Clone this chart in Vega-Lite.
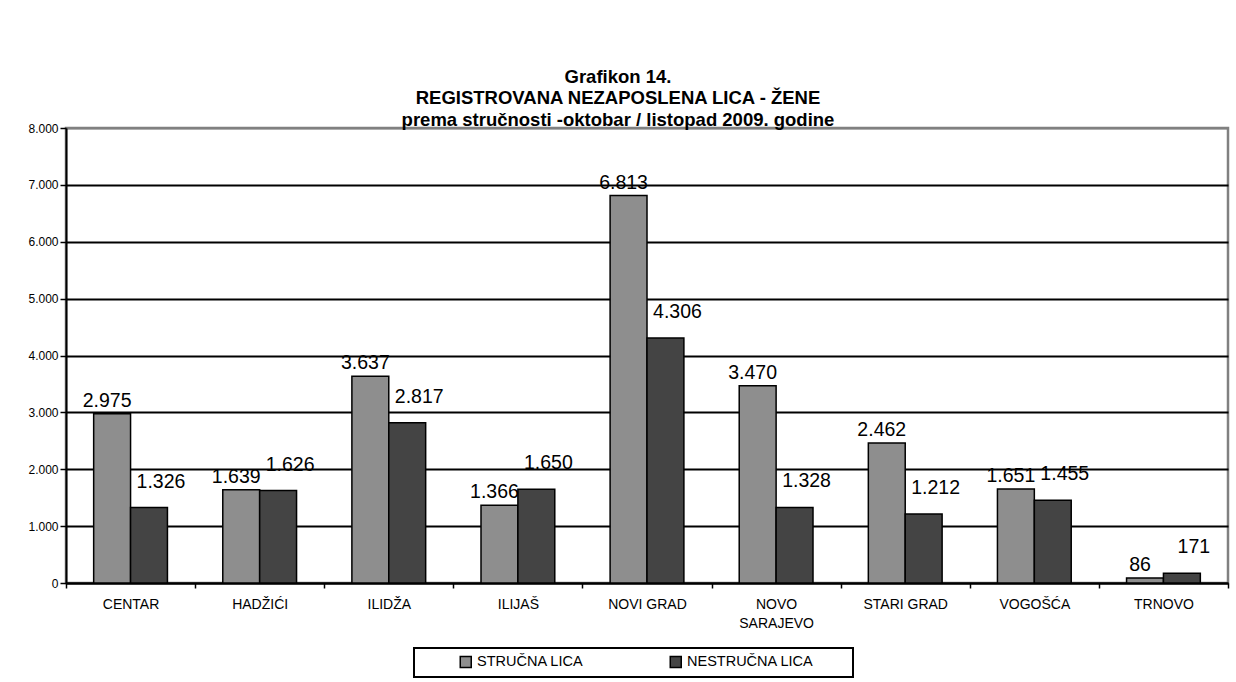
{
  "$schema": "https://vega.github.io/schema/vega-lite/v6.json",
  "width": 1162,
  "height": 455,
  "autosize": {"type": "none"},
  "padding": {"left": 66, "top": 128, "right": 8, "bottom": 99},
  "background": "white",
  "title": {
    "text": ["Grafikon 14.", "REGISTROVANA NEZAPOSLENA LICA - ŽENE", "prema stručnosti -oktobar / listopad 2009. godine"],
    "fontSize": 18.5,
    "fontWeight": "bold",
    "font": "Liberation Sans",
    "lineHeight": 21.5,
    "anchor": "middle",
    "dx": -29,
    "offset": -7,
    "color": "black"
  },
  "data": {
    "values": [
      {"opcina": "CENTAR", "vrsta": "STRUČNA LICA", "broj": 2975},
      {"opcina": "CENTAR", "vrsta": "NESTRUČNA LICA", "broj": 1326},
      {"opcina": "HADŽIĆI", "vrsta": "STRUČNA LICA", "broj": 1639},
      {"opcina": "HADŽIĆI", "vrsta": "NESTRUČNA LICA", "broj": 1626},
      {"opcina": "ILIDŽA", "vrsta": "STRUČNA LICA", "broj": 3637},
      {"opcina": "ILIDŽA", "vrsta": "NESTRUČNA LICA", "broj": 2817},
      {"opcina": "ILIJAŠ", "vrsta": "STRUČNA LICA", "broj": 1366},
      {"opcina": "ILIJAŠ", "vrsta": "NESTRUČNA LICA", "broj": 1650},
      {"opcina": "NOVI GRAD", "vrsta": "STRUČNA LICA", "broj": 6813},
      {"opcina": "NOVI GRAD", "vrsta": "NESTRUČNA LICA", "broj": 4306},
      {"opcina": "NOVO SARAJEVO", "vrsta": "STRUČNA LICA", "broj": 3470},
      {"opcina": "NOVO SARAJEVO", "vrsta": "NESTRUČNA LICA", "broj": 1328},
      {"opcina": "STARI GRAD", "vrsta": "STRUČNA LICA", "broj": 2462},
      {"opcina": "STARI GRAD", "vrsta": "NESTRUČNA LICA", "broj": 1212},
      {"opcina": "VOGOŠĆA", "vrsta": "STRUČNA LICA", "broj": 1651},
      {"opcina": "VOGOŠĆA", "vrsta": "NESTRUČNA LICA", "broj": 1455},
      {"opcina": "TRNOVO", "vrsta": "STRUČNA LICA", "broj": 86},
      {"opcina": "TRNOVO", "vrsta": "NESTRUČNA LICA", "broj": 171}
    ]
  },
  "encoding": {
    "x": {
      "field": "opcina",
      "type": "nominal",
      "sort": null,
      "scale": {"paddingInner": 0, "paddingOuter": 0},
      "axis": {
        "title": null,
        "labelAngle": 0,
        "tickBand": "extent",
        "tickSize": 5,
        "tickColor": "black",
        "tickWidth": 1.5,
        "domainColor": "black",
        "domainWidth": 2,
        "labelFontSize": 14,
        "labelPadding": 9,
        "labelColor": "black",
        "labelLineHeight": 19,
        "labelBaseline": "top",
        "labelExpr": "datum.label == 'NOVO SARAJEVO' ? ['NOVO', 'SARAJEVO'] : datum.label"
      }
    },
    "xOffset": {
      "field": "vrsta",
      "type": "nominal",
      "sort": ["STRUČNA LICA", "NESTRUČNA LICA"],
      "scale": {"paddingInner": 0, "paddingOuter": 0.75}
    },
    "y": {
      "field": "broj",
      "type": "quantitative",
      "scale": {"domain": [0, 8000], "nice": false},
      "axis": {
        "title": null,
        "values": [0, 1000, 2000, 3000, 4000, 5000, 6000, 7000, 8000],
        "format": ",d",
        "grid": true,
        "gridColor": {"condition": {"test": "datum.value === 8000", "value": "#808080"}, "value": "black"},
        "gridWidth": 2,
        "domainColor": "black",
        "domainWidth": 2,
        "tickColor": "black",
        "tickSize": 6,
        "tickWidth": 1.5,
        "labelFontSize": 12,
        "labelPadding": 2,
        "labelColor": "black"
      }
    }
  },
  "layer": [
    {
      "mark": {"type": "bar", "stroke": "black", "strokeWidth": 1.5},
      "encoding": {
        "color": {
          "field": "vrsta",
          "type": "nominal",
          "sort": ["STRUČNA LICA", "NESTRUČNA LICA"],
          "scale": {"domain": ["STRUČNA LICA", "NESTRUČNA LICA"], "range": ["#8e8e8e", "#444444"]},
          "legend": {
            "orient": "none",
            "legendX": 348,
            "legendY": 520,
            "direction": "horizontal",
            "title": "\u00a0",
            "titleOrient": "right",
            "titlePadding": 33,
            "titleFontSize": 10,
            "titleColor": "white",
            "symbolType": "square",
            "symbolSize": 121,
            "symbolStrokeColor": "black",
            "symbolStrokeWidth": 1.5,
            "symbolOpacity": 1,
            "symbolOffset": 38,
            "labelOffset": 4,
            "labelFontSize": 14.5,
            "labelColor": "black",
            "strokeColor": "black",
            "padding": 6.5,
            "columnPadding": 47
          }
        }
      }
    },
    {
      "transform": [{"filter": "datum.vrsta === 'STRUČNA LICA'"}],
      "mark": {"type": "text", "baseline": "bottom", "dx": -5, "dy": -3, "fontSize": 19.5, "color": "black"},
      "encoding": {
        "text": {"field": "broj", "type": "quantitative", "format": ",d"}
      }
    },
    {
      "transform": [{"filter": "datum.vrsta === 'NESTRUČNA LICA'"}],
      "mark": {"type": "text", "baseline": "bottom", "dx": 12, "dy": -16, "fontSize": 19.5, "color": "black"},
      "encoding": {
        "text": {"field": "broj", "type": "quantitative", "format": ",d"}
      }
    }
  ],
  "config": {
    "font": "Liberation Sans",
    "locale": {"number": {"decimal": ",", "thousands": ".", "grouping": [3], "currency": ["", ""]}},
    "view": {"stroke": "#808080", "strokeWidth": 2.5},
    "legend": {"strokeWidth": 2}
  }
}
